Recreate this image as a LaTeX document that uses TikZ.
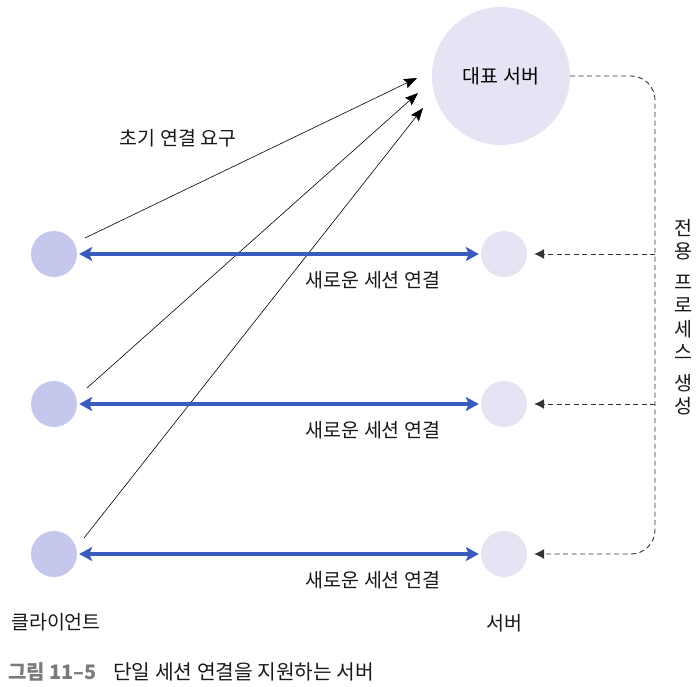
\documentclass[tikz,border=0pt]{standalone}
\usepackage{fontspec}
\setmainfont{Noto Sans CJK KR}
\usepackage{tikz}
\usetikzlibrary{arrows.meta}

\definecolor{clientfill}{HTML}{C5C8EC}
\definecolor{serverfill}{HTML}{E4E4F5}
\definecolor{sessionblue}{HTML}{3A5BBE}
\definecolor{captiongray}{HTML}{7B7B7B}

\tikzset{
  client/.style={circle,fill=clientfill,minimum size=46pt,inner sep=0pt},
  server/.style={circle,fill=serverfill,minimum size=46pt,inner sep=0pt},
  session/.style={sessionblue,line width=4pt,
    {Stealth[length=13pt,width=14pt,inset=3pt]}-{Stealth[length=13pt,width=14pt,inset=3pt]},
    shorten <=2pt,shorten >=2pt},
  request/.style={line width=0.6pt,-{Stealth[length=13pt,width=10pt,inset=2pt]}},
  spawn/.style={line width=0.9pt,black!80,dash pattern=on 5pt off 3.5pt},
  spawntip/.style={-{Latex[length=10pt,width=10pt]},shorten >=7pt},
  txt/.style={font=\fontsize{19.5}{23}\selectfont,text=black!90,inner sep=0pt}
}

\begin{document}
\begin{tikzpicture}[x=1pt,y=-1pt]
  \useasboundingbox (0,0) rectangle (699,686);

  % main server
  \node[server,minimum size=138pt,font=\fontsize{19.5}{23}\selectfont] (rep) at (501,76) {대표 서버};

  % clients and child servers
  \node[client] (c1) at (54,254) {};
  \node[client] (c2) at (54,404) {};
  \node[client] (c3) at (54,554) {};
  \node[server] (s1) at (504,254) {};
  \node[server] (s2) at (504,404) {};
  \node[server] (s3) at (504,554) {};

  % first connection requests
  \coordinate (t1) at (417,78);
  \coordinate (t2) at (418,93);
  \coordinate (t3) at (423,108);
  \draw[request] ([shift={(31,-16)}]c1.center) -- (t1);
  \draw[request] ([shift={(33,-16)}]c2.center) -- (t2);
  \draw[request] ([shift={(30,-16)}]c3.center) -- (t3);
  \node[txt] (req) at (178,138) {초기 연결 요구};

  % new sessions
  \draw[session] (c1) -- (s1);
  \draw[session] (c2) -- (s2);
  \draw[session] (c3) -- (s3);
  \node[txt] (n1) at (373,280) {새로운 세션 연결};
  \node[txt] (n2) at (373,430) {새로운 세션 연결};
  \node[txt] (n3) at (373,580) {새로운 세션 연결};

  % process spawning
  \coordinate (bus) at (655,0);
  \draw[spawn,spawntip,rounded corners=24pt]
    (rep.east) -- (bus |- rep.east) -- (bus |- s3) -- (s3.east);
  \draw[spawn,spawntip] (bus |- s1) -- (s1.east);
  \draw[spawn,spawntip] (bus |- s2) -- (s2.east);
  \node[txt,align=center,font=\fontsize{19.5}{23.5}\selectfont] (proc) at (683,317)
    {전\\용\\[7pt]프\\로\\세\\스\\[7pt]생\\성};

  % column labels
  \node[txt] (cl) at (56,622) {클라이언트};
  \node[txt] (sl) at (504,623) {서버};

  % caption
  \node[txt,anchor=west,text=captiongray,font=\fontsize{20}{23}\selectfont\bfseries] (fig) at (8,672) {그림 11–5};
  \node[txt,anchor=west,font=\fontsize{20.3}{23}\selectfont] (cap) at (113,672) {단일 세션 연결을 지원하는 서버};
\end{tikzpicture}
\end{document}
